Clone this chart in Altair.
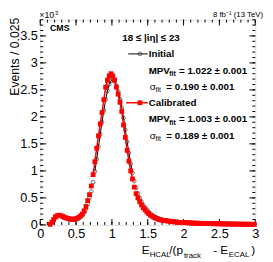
import altair as alt
import pandas as pd

# ---------------- data (Events / 0.025, in units of 10^3) ----------------
bin_width = 0.025
first_center = 0.1375

calibrated = [
    0.01, 0.05, 0.10, 0.15, 0.17, 0.18, 0.17, 0.16, 0.14, 0.13,
    0.12, 0.11, 0.105, 0.105, 0.11, 0.12, 0.14, 0.17, 0.20, 0.26,
    0.34, 0.45, 0.56, 0.72, 0.93, 1.17, 1.42, 1.65, 1.87, 2.08,
    2.32, 2.55, 2.68, 2.76, 2.80, 2.76, 2.68, 2.55, 2.42, 2.27,
    2.10, 1.85, 1.62, 1.38, 1.18, 1.00, 0.85, 0.70, 0.58, 0.50,
    0.43, 0.37, 0.32, 0.28, 0.24, 0.21, 0.18, 0.16, 0.14, 0.125,
    0.11, 0.10, 0.09, 0.085, 0.08, 0.075, 0.07,
    0.065, 0.06, 0.057, 0.054, 0.05, 0.048, 0.046, 0.044, 0.042, 0.04,
    0.038, 0.036, 0.035, 0.034, 0.032, 0.031, 0.03, 0.029, 0.028, 0.027,
    0.026, 0.025, 0.024, 0.023, 0.022, 0.022, 0.021, 0.02, 0.02, 0.019,
    0.018, 0.018, 0.017, 0.017, 0.016, 0.016, 0.015, 0.015, 0.014, 0.014,
    0.013, 0.013, 0.013, 0.012, 0.012, 0.012, 0.011, 0.011,
]

initial = [
    0.01, 0.04, 0.09, 0.13, 0.16, 0.17, 0.165, 0.15, 0.13, 0.12,
    0.11, 0.10, 0.095, 0.095, 0.10, 0.11, 0.125, 0.15, 0.18, 0.23,
    0.30, 0.39, 0.50, 0.62, 0.79, 0.99, 1.22, 1.45, 1.68, 1.90,
    2.12, 2.32, 2.48, 2.60, 2.67, 2.70, 2.66, 2.58, 2.47, 2.33,
    2.17, 1.98, 1.76, 1.54, 1.33, 1.13, 0.96, 0.81, 0.68, 0.58,
    0.50, 0.43, 0.37, 0.32, 0.28, 0.24, 0.21, 0.18, 0.16, 0.14,
    0.125, 0.11, 0.10, 0.09, 0.085, 0.08, 0.075,
    0.07, 0.065, 0.061, 0.057, 0.053, 0.05, 0.048, 0.046, 0.044, 0.042,
    0.04, 0.038, 0.036, 0.035, 0.033, 0.032, 0.031, 0.03, 0.029, 0.028,
    0.027, 0.026, 0.025, 0.024, 0.023, 0.023, 0.022, 0.021, 0.021, 0.02,
    0.019, 0.019, 0.018, 0.018, 0.017, 0.017, 0.016, 0.016, 0.015, 0.015,
    0.014, 0.014, 0.014, 0.013, 0.013, 0.013, 0.012, 0.012,
]

x_centers = [round(first_center + bin_width * i, 4) for i in range(len(calibrated))]

fit_range_initial = [0.75, 1.31]
fit_range_calibrated = [0.73, 1.29]

x_major = [0, 0.5, 1, 1.5, 2, 2.5, 3]
y_major = [0, 0.5, 1, 1.5, 2, 2.5, 3, 3.5]
x_minor = [round(0.1 * i, 1) for i in range(31)]
y_minor = [round(0.1 * i, 1) for i in range(39)]

# ---------------- layout ----------------
W, H = 220, 210
FONT = "Liberation Sans"

df = pd.DataFrame({"x": x_centers, "initial": initial, "calibrated": calibrated})

xs = alt.Scale(domain=[0, 3], nice=False, zero=False)
ys = alt.Scale(domain=[0, 3.8], nice=False)

x_axis = alt.Axis(values=x_major, format=".1~f", ticks=False, domain=False, grid=False,
                  labelFont=FONT, labelFontSize=13, labelColor="black", labelPadding=3,
                  labelFlush=False, labelOverlap=False, title=None)
y_axis = alt.Axis(values=y_major, format=".1~f", ticks=False, domain=False, grid=False,
                  labelFont=FONT, labelFontSize=13, labelColor="black", labelPadding=3,
                  labelFlush=False, labelOverlap=False, title=None)


def X(field):
    return alt.X(field, scale=xs, axis=x_axis)


def Y(field):
    return alt.Y(field, scale=ys, axis=y_axis)


base = alt.Chart(df)

# initial: line over fit range + open circles
init_line = base.transform_filter(
    (alt.datum.x >= fit_range_initial[0]) & (alt.datum.x <= fit_range_initial[1])
).mark_line(color="black", strokeWidth=1).encode(x=X("x:Q"), y=Y("initial:Q"))
init_pts = base.mark_point(shape="circle", filled=False, color="black", size=14,
                           strokeWidth=0.8).encode(x=X("x:Q"), y=Y("initial:Q"))

cal_line = base.transform_filter(
    (alt.datum.x >= fit_range_calibrated[0]) & (alt.datum.x <= fit_range_calibrated[1])
).mark_line(color="#ff0000", strokeWidth=1.5).encode(x=X("x:Q"), y=Y("calibrated:Q"))
cal_pts = base.mark_point(shape="square", filled=True, color="#ff0000", size=24,
                          opacity=1).encode(x=X("x:Q"), y=Y("calibrated:Q"))


# inward ticks on all four sides
def yticks(vals, length):
    d = alt.Chart(pd.DataFrame({"v": vals}))
    left = d.mark_rule(color="black", strokeWidth=1).encode(
        y=Y("v:Q"), x=alt.value(0), x2=alt.value(length))
    right = d.mark_rule(color="black", strokeWidth=1).encode(
        y=Y("v:Q"), x=alt.value(W - length), x2=alt.value(W))
    return [left, right]


def xticks(vals, length):
    d = alt.Chart(pd.DataFrame({"v": vals}))
    bottom = d.mark_rule(color="black", strokeWidth=1).encode(
        x=X("v:Q"), y=alt.value(H - length), y2=alt.value(H))
    top = d.mark_rule(color="black", strokeWidth=1).encode(
        x=X("v:Q"), y=alt.value(0), y2=alt.value(length))
    return [bottom, top]


ticks = yticks(y_major, 6) + yticks(y_minor, 3) + xticks(x_major, 6) + xticks(x_minor, 3)

one = pd.DataFrame({"a": [0]})


def txt(s, x, y, size=10, bold=False, align="left", angle=0, baseline="alphabetic"):
    kw = dict(text=s, font=FONT, fontSize=size, align=align, baseline=baseline,
              fontWeight="bold" if bold else "normal", color="black")
    if angle:
        kw["angle"] = angle
    return alt.Chart(one).mark_text(**kw).encode(x=alt.value(x), y=alt.value(y))


TY = 240  # x-title baseline
texts = [
    txt("×10", -1, -1.5, size=9),
    txt("3", 15, -5, size=6),
    txt("8 fb⁻¹ (13 TeV)", 228, -2.5, size=8, align="right"),
    txt("CMS", 10, 11.5, size=9, bold=True),
    txt("18 ≤ |iη| ≤ 23", 84, 21.5, size=10, bold=True),
    # initial block
    txt("Initial", 111, 38.5, size=10, bold=True),
    txt("MPV", 111, 55.2, size=10, bold=True),
    txt("fit", 132, 57.5, size=7, bold=True),
    txt("= 1.022 ± 0.001", 142, 55.2, size=10, bold=True),
    txt("σ", 112, 71.8, size=10),
    txt("fit", 118, 74.1, size=7),
    txt("= 0.190 ± 0.001", 129, 71.8, size=10, bold=True),
    # calibrated block
    txt("Calibrated", 111, 88.4, size=10, bold=True),
    txt("MPV", 111, 105, size=10, bold=True),
    txt("fit", 132, 107.3, size=7, bold=True),
    txt("= 1.003 ± 0.001", 142, 105, size=10, bold=True),
    txt("σ", 112, 121.6, size=10),
    txt("fit", 118, 123.9, size=7),
    txt("= 0.189 ± 0.001", 129, 121.6, size=10, bold=True),
    # x-axis title
    txt("E", 104, TY, size=12),
    txt("HCAL", 112, TY + 3, size=8),
    txt("/(p", 132, TY, size=12),
    txt("track", 147, TY + 4, size=8),
    txt("- E", 177, TY, size=12),
    txt("ECAL", 193, TY + 3, size=8),
    txt(")", 216, TY, size=12),
    # y-axis title
    txt("Events / 0.025", -26, -2, size=12.5, align="right", angle=270, baseline="middle"),
]

# legend markers
legend = [
    alt.Chart(one).mark_rule(color="black", strokeWidth=1).encode(
        x=alt.value(90), x2=alt.value(110), y=alt.value(35)),
    alt.Chart(one).mark_point(shape="circle", filled=False, color="black", size=14,
                              strokeWidth=0.8).encode(x=alt.value(102), y=alt.value(35)),
    alt.Chart(one).mark_rule(color="#ff0000", strokeWidth=1.5).encode(
        x=alt.value(88), x2=alt.value(110), y=alt.value(85)),
    alt.Chart(one).mark_point(shape="square", filled=True, color="#ff0000", size=24,
                              opacity=1).encode(x=alt.value(102), y=alt.value(85)),
]

chart = alt.layer(
    *ticks, init_line, init_pts, cal_line, cal_pts, *legend, *texts
).properties(
    width=W, height=H,
    autosize=alt.AutoSizeParams(type="none"),
    padding={"left": 33, "top": 9, "right": 10, "bottom": 35},
).configure_view(stroke="black", strokeWidth=1).configure(background="white")

chart.save("out.html", embed_options={"renderer": "svg", "actions": False})
